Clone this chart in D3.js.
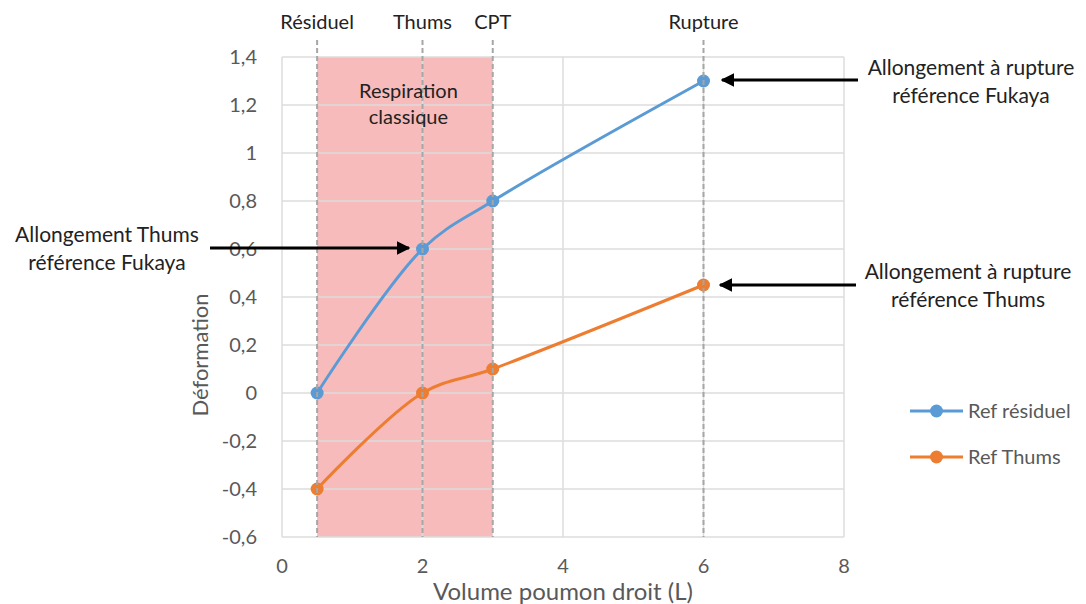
<!DOCTYPE html>
<html>
<head>
<meta charset="utf-8">
<script src="https://cdn.jsdelivr.net/npm/d3@7"></script>
<style>
  body { margin: 0; background: #fff; }
  text { font-family: Lato, "Open Sans", sans-serif; }
</style>
</head>
<body>
<svg id="drawing_region"></svg>
<script>
// data
const volumes = [0.5, 2, 3, 6];
const refResiduel = [0, 0.6, 0.8, 1.3];
const refThums = [-0.4, 0, 0.1, 0.45];
const markerNames = ["Résiduel", "Thums", "CPT", "Rupture"];
const markerVolumes = [0.5, 2, 3, 6];
const zone = [0.5, 3];
const xTicks = [0, 2, 4, 6, 8];
const yTicks = [-0.6, -0.4, -0.2, 0, 0.2, 0.4, 0.6, 0.8, 1, 1.2, 1.4];
const seriesNames = ["Ref résiduel", "Ref Thums"];
const seriesColors = ["#5B9BD5", "#ED7D31"];

const config = {
    width: 1086,
    height: 604,
    margin: {top: 57, right: 242, bottom: 67, left: 282}
};

const svg = d3.select('#drawing_region')
    .attr('width', config.width)
    .attr('height', config.height);

const inner_width = config.width - config.margin.left - config.margin.right;
const inner_height = config.height - config.margin.top - config.margin.bottom;

const chart = svg.append('g')
    .attr('transform', `translate(${config.margin.left}, ${config.margin.top})`);

const xscale = d3.scaleLinear().domain([0, 8]).range([0, inner_width]);
const yscale = d3.scaleLinear().domain([-0.6, 1.4]).range([inner_height, 0]);

// shaded zone
chart.append('rect')
    .attr('x', xscale(zone[0]))
    .attr('y', 0)
    .attr('width', xscale(zone[1]) - xscale(zone[0]))
    .attr('height', inner_height)
    .attr('fill', '#F8BBBB');

// grid
chart.append('g').selectAll('line')
    .data(yTicks)
    .enter().append('line')
    .attr('x1', 0).attr('x2', inner_width)
    .attr('y1', d => yscale(d)).attr('y2', d => yscale(d))
    .attr('stroke', '#DCDCDC').attr('stroke-width', 1.5);

chart.append('g').selectAll('line')
    .data(xTicks)
    .enter().append('line')
    .attr('x1', d => xscale(d)).attr('x2', d => xscale(d))
    .attr('y1', 0).attr('y2', inner_height)
    .attr('stroke', '#DCDCDC').attr('stroke-width', 1.5);

// tick labels
chart.append('g').selectAll('text')
    .data(yTicks)
    .enter().append('text')
    .attr('x', -25)
    .attr('y', d => yscale(d))
    .attr('dy', '0.35em')
    .attr('text-anchor', 'end')
    .attr('font-size', '20px')
    .attr('fill', '#595959')
    .text(d => String(d).replace('.', ','));

chart.append('g').selectAll('text')
    .data(xTicks)
    .enter().append('text')
    .attr('x', d => xscale(d))
    .attr('y', inner_height + 36)
    .attr('text-anchor', 'middle')
    .attr('font-size', '20px')
    .attr('fill', '#595959')
    .text(d => d);

// axis titles
chart.append('text')
    .attr('x', inner_width / 2)
    .attr('y', inner_height + 63)
    .attr('text-anchor', 'middle')
    .attr('font-size', '24px')
    .attr('fill', '#595959')
    .text('Volume poumon droit (L)');

chart.append('text')
    .attr('transform', `translate(-74, ${298}) rotate(-90)`)
    .attr('text-anchor', 'middle')
    .attr('font-size', '22px')
    .attr('fill', '#595959')
    .text('Déformation');

// series
const seriesData = [refResiduel, refThums];
const line = d3.line()
    .x(d => xscale(d.x))
    .y(d => yscale(d.y))
    .curve(d3.curveCatmullRom.alpha(0.5));

seriesData.forEach((values, i) => {
    const pts = volumes.map((v, j) => ({x: v, y: values[j]}));
    chart.append('path')
        .datum(pts)
        .attr('d', line)
        .attr('fill', 'none')
        .attr('stroke', seriesColors[i])
        .attr('stroke-width', 3);
    chart.append('g').selectAll('circle')
        .data(pts)
        .enter().append('circle')
        .attr('cx', d => xscale(d.x))
        .attr('cy', d => yscale(d.y))
        .attr('r', 6.5)
        .attr('fill', seriesColors[i]);
});

// dashed reference lines
chart.append('g').selectAll('line')
    .data(markerVolumes)
    .enter().append('line')
    .attr('x1', d => xscale(d)).attr('x2', d => xscale(d))
    .attr('y1', -17).attr('y2', inner_height)
    .attr('stroke', '#A6A6A6')
    .attr('stroke-width', 2)
    .attr('stroke-dasharray', '5,3');

chart.append('g').selectAll('text')
    .data(markerNames)
    .enter().append('text')
    .attr('x', (d, i) => xscale(markerVolumes[i]))
    .attr('y', -28)
    .attr('text-anchor', 'middle')
    .attr('font-size', '20px')
    .attr('fill', '#222')
    .text(d => d);

// zone label
chart.append('text')
    .attr('x', xscale(1.8))
    .attr('y', 41)
    .attr('text-anchor', 'middle')
    .attr('font-size', '20px')
    .attr('fill', '#222')
    .selectAll('tspan')
    .data(['Respiration', 'classique'])
    .enter().append('tspan')
    .attr('x', xscale(1.8))
    .attr('dy', (d, i) => i === 0 ? 0 : '1.3em')
    .text(d => d);

// annotations
svg.append('defs').append('marker')
    .attr('id', 'arrow')
    .attr('viewBox', '0 0 10 10')
    .attr('refX', 9).attr('refY', 5)
    .attr('markerWidth', 4.5).attr('markerHeight', 4.5)
    .attr('orient', 'auto')
    .append('path')
    .attr('d', 'M0,0 L10,5 L0,10 z')
    .attr('fill', '#000');

const notes = [
    {lines: ['Allongement à rupture', 'référence Fukaya'], tx: 971, ty: 75, from: [858, 80], to: [722, 80]},
    {lines: ['Allongement à rupture', 'référence Thums'], tx: 968, ty: 279, from: [856, 285], to: [720, 285]},
    {lines: ['Allongement Thums', 'référence Fukaya'], tx: 107, ty: 242, from: [210, 248], to: [409, 248]}
];

notes.forEach(n => {
    svg.append('line')
        .attr('x1', n.from[0]).attr('y1', n.from[1])
        .attr('x2', n.to[0]).attr('y2', n.to[1])
        .attr('stroke', '#000')
        .attr('stroke-width', 3)
        .attr('marker-end', 'url(#arrow)');
    svg.append('text')
        .attr('text-anchor', 'middle')
        .attr('font-size', '21px')
        .attr('fill', '#222')
        .selectAll('tspan')
        .data(n.lines)
        .enter().append('tspan')
        .attr('x', n.tx)
        .attr('y', (d, i) => n.ty + i * 28)
        .text(d => d);
});

// legend
const legend = svg.append('g').attr('transform', 'translate(910, 411)');
seriesNames.forEach((name, i) => {
    const g = legend.append('g').attr('transform', `translate(0, ${i * 46})`);
    g.append('line')
        .attr('x1', 0).attr('x2', 53)
        .attr('y1', 0).attr('y2', 0)
        .attr('stroke', seriesColors[i])
        .attr('stroke-width', 3);
    g.append('circle')
        .attr('cx', 26.5).attr('cy', 0).attr('r', 6.5)
        .attr('fill', seriesColors[i]);
    g.append('text')
        .attr('x', 58).attr('y', 0).attr('dy', '0.35em')
        .attr('font-size', '20px')
        .attr('fill', '#595959')
        .text(name);
});
</script>
</body>
</html>
